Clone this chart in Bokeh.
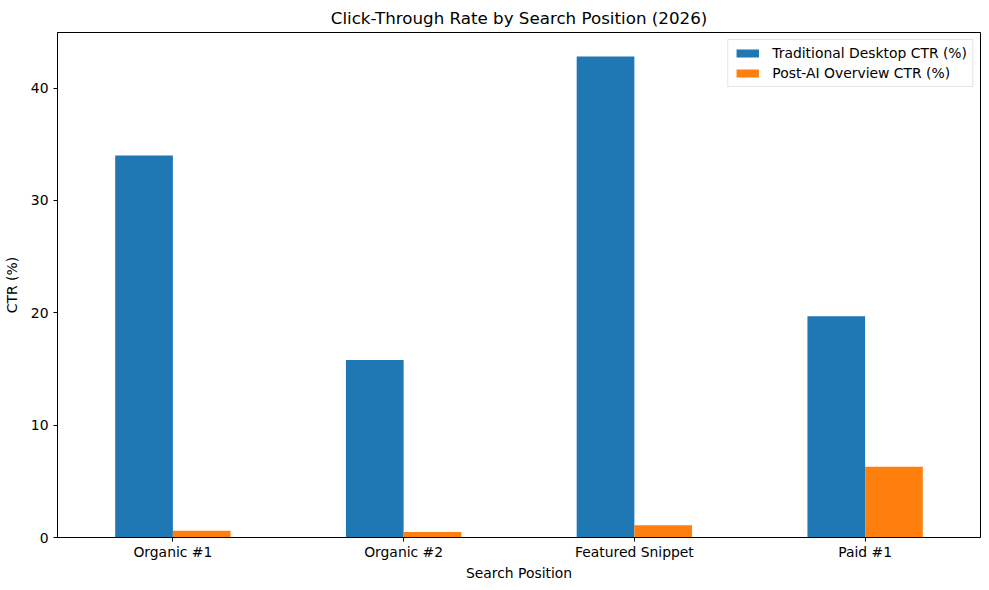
from bokeh.plotting import figure
from bokeh.models import FactorRange, Range1d, ColumnDataSource, FixedTicker, Legend, LegendItem
from bokeh.transform import dodge
from bokeh.embed import file_html
from bokeh.resources import INLINE

categories = ["Organic #1", "Organic #2", "Featured Snippet", "Paid #1"]
traditional_ctr = [34.0, 15.8, 42.8, 19.7]
post_ai_ctr = [0.6, 0.5, 1.1, 6.3]
series_names = ["Traditional Desktop CTR (%)", "Post-AI Overview CTR (%)"]
y_ticks = [0, 10, 20, 30, 40]

FONT = "DejaVu Sans"
FS = "13.9px"

src = ColumnDataSource(dict(cat=categories, trad=traditional_ctr, post=post_ai_ctr))

p = figure(
    x_range=FactorRange(factors=categories, range_padding=0),
    y_range=Range1d(0, max(traditional_ctr + post_ai_ctr) * 1.05),
    frame_width=923, frame_height=505,
    output_backend="svg", toolbar_location=None,
    title="Click-Through Rate by Search Position (2026)",
    min_border_left=49, min_border_right=1, min_border_top=0, min_border_bottom=0,
)
p.title.align = "center"
p.title.text_font = FONT
p.title.text_font_size = "16.7px"
p.title.text_font_style = "normal"
p.title.text_color = "black"

r1 = p.vbar(x=dodge("cat", -0.125, range=p.x_range), top="trad", width=0.25, source=src,
            fill_color="#1f77b4", line_color=None)
r2 = p.vbar(x=dodge("cat", 0.125, range=p.x_range), top="post", width=0.25, source=src,
            fill_color="#ff7f0e", line_color=None)

p.xgrid.visible = False
p.ygrid.visible = False
p.outline_line_color = "black"
p.outline_line_width = 1
p.outline_line_alpha = 1

for ax in (p.xaxis[0], p.yaxis[0]):
    ax.axis_line_color = "black"
    ax.major_tick_line_color = "black"
    ax.major_tick_out = 4
    ax.major_tick_in = 0
    ax.minor_tick_line_color = None
    ax.major_label_text_font = FONT
    ax.major_label_text_font_size = FS
    ax.major_label_text_color = "black"
    ax.axis_label_text_font = FONT
    ax.axis_label_text_font_size = FS
    ax.axis_label_text_font_style = "normal"
    ax.axis_label_text_color = "black"

p.yaxis[0].ticker = FixedTicker(ticks=y_ticks)
p.xaxis.axis_label = "Search Position"
p.yaxis.axis_label = "CTR (%)"
p.xaxis.major_label_standoff = 2
p.xaxis.axis_label_standoff = 2
p.yaxis.major_label_standoff = 5
p.yaxis.axis_label_standoff = 8

legend = Legend(items=[LegendItem(label=series_names[0], renderers=[r1]),
                       LegendItem(label=series_names[1], renderers=[r2])],
                location="top_right")
legend.label_text_font = FONT
legend.label_text_font_size = FS
legend.label_text_color = "black"
legend.glyph_width = 28
legend.glyph_height = 10
legend.label_standoff = 11
legend.spacing = 4
legend.padding = 5
legend.margin = 7
legend.border_line_color = "#cccccc"
legend.border_line_width = 1
legend.background_fill_alpha = 0.8
p.add_layout(legend)

open("out.html", "w").write(file_html(p, INLINE))
